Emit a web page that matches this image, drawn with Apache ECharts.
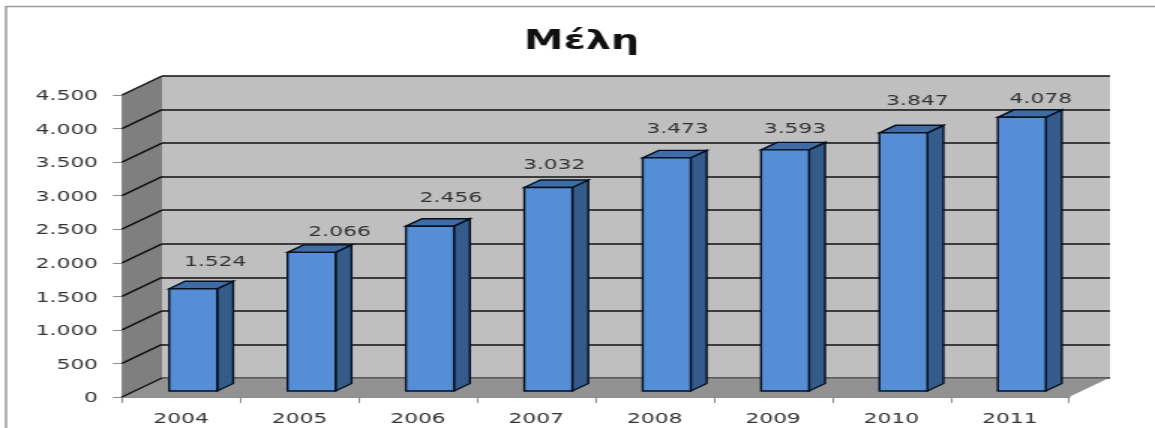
<!DOCTYPE html>
<html>
<head>
<meta charset="utf-8">
<title>Μέλη</title>
<style>
  html, body { margin: 0; padding: 0; background: #fff; overflow: hidden; }
  /* the reference is a picture stretched sideways, so the whole chart is too */
  #chart { width: 770px; height: 428px; transform: scaleX(1.5); transform-origin: 0 0; }
</style>
<script src="https://cdn.jsdelivr.net/npm/echarts@6/dist/echarts.min.js"></script>
</head>
<body>
<div id="chart"></div>
<script>
const years = ['2004', '2005', '2006', '2007', '2008', '2009', '2010', '2011']
const members = [1524, 2066, 2456, 3032, 3473, 3593, 3847, 4078]
const valueTicks = [0, 500, 1000, 1500, 2000, 2500, 3000, 3500, 4000, 4500]
// where each data label sits relative to its bar, in px (the original is uneven)
const labelLift = [26, 20, 28, 22, 29, 21, 32, 18]
const labelShift = [22, 28, 21, 6, 11, 10, 14, 19]

const STRETCH = 1.5
const sx = x => x / STRETCH
const FONT = '"DejaVu Sans"'

const wallDepth = [sx(40), -19]   // front plane -> back wall
const barInset = [sx(12), -6]     // front plane -> front face of the bar
const barDepth = [sx(16), -7.5]
const barRatio = 48 / 118.4

const fmt = v => String(v).replace(/\B(?=(\d{3})+$)/g, '.')
const poly = (points, fill) => ({
  type: 'polygon',
  shape: { points },
  style: { fill }
})

/* -------------------------- walls -------------------------- */
function renderWalls(params) {
  const { x, y, width, height } = params.coordSys
  const [dx, dy] = wallDepth
  const b = y + height
  return {
    type: 'group',
    children: [
      poly([[x, y], [x + dx, y + dy], [x + dx, b + dy], [x, b]], '#7f7f7f'),
      poly([[x, b], [x + dx, b + dy], [x + width + dx, b + dy], [x + width, b]], '#929292'),
      {
        type: 'line',
        shape: { x1: x + dx, y1: b + dy, x2: x + width + dx, y2: b + dy },
        style: { stroke: '#666', lineWidth: 1.6 }
      }
    ]
  }
}

function renderWallLines(params, api) {
  const x = params.coordSys.x
  const y = api.coord([0, api.value(0)])[1]
  return {
    type: 'line',
    shape: { x1: x, y1: y, x2: x + wallDepth[0], y2: y + wallDepth[1] },
    style: { stroke: '#111', lineWidth: 1.5 }
  }
}

/* -------------------------- bars -------------------------- */
function renderBar(params, api) {
  const band = api.size([1, 0])[0]
  const w = band * barRatio
  const top = api.coord([api.value(0), api.value(1)])
  const base = api.coord([api.value(0), 0])
  const l = top[0] + barInset[0] - w / 2
  const r = l + w
  const t = top[1] + barInset[1]
  const b = base[1] + barInset[1]
  const [dx, dy] = barDepth
  const line = { stroke: '#05101f', lineWidth: 1.4 }
  return {
    type: 'group',
    children: [
      { type: 'polygon', shape: { points: [[r, t], [r + dx, t + dy], [r + dx, b + dy], [r, b]] }, style: { fill: '#355b8a', ...line } },
      { type: 'polygon', shape: { points: [[l, t], [l + dx, t + dy], [r + dx, t + dy], [r, t]] }, style: { fill: '#3f6ca6', ...line } },
      { type: 'rect', shape: { x: l, y: t, width: w, height: b - t }, style: { fill: '#558ed5', ...line } },
      {
        type: 'text',
        style: {
          x: l + w / 2 + sx(labelShift[params.dataIndex]),
          y: t - labelLift[params.dataIndex],
          text: fmt(api.value(1)),
          align: 'center',
          verticalAlign: 'middle',
          fill: '#333',
          font: '14.5px ' + FONT
        }
      }
    ]
  }
}

const chart = echarts.init(document.getElementById('chart'))
chart.setOption({
  animation: false,
  backgroundColor: '#fff',
  textStyle: { fontFamily: FONT },
  title: {
    text: 'Μέλη',
    left: sx(574),
    top: 24,
    textAlign: 'center',
    textStyle: { fontFamily: FONT, fontSize: 26.5, fontWeight: 'bold', color: '#111' }
  },
  graphic: [
    { type: 'line', shape: { x1: sx(6), y1: 6.5, x2: 770, y2: 6.5 }, style: { stroke: '#9a9a9a', lineWidth: 1.5 } },
    { type: 'line', shape: { x1: sx(6), y1: 6, x2: sx(6), y2: 428 }, style: { stroke: '#9a9a9a', lineWidth: 1.5 } }
  ],
  grid: [
    // front plane: carries the axes and the bars
    { left: sx(122), top: 95, width: sx(947), height: 302 },
    // back wall: carries the gridlines
    { left: sx(162), top: 76, width: sx(948), height: 302, show: true, backgroundColor: '#bfbfbf', borderWidth: 0 }
  ],
  xAxis: [
    {
      type: 'category',
      data: years,
      gridIndex: 0,
      axisLine: { lineStyle: { color: '#8c8c8c', width: 2 } },
      axisTick: { show: true, length: 6, lineStyle: { color: '#8c8c8c' } },
      axisLabel: { color: '#333', fontSize: 14.5, margin: 15, fontFamily: FONT }
    },
    { type: 'category', data: years, gridIndex: 1, show: false }
  ],
  yAxis: [
    {
      type: 'value',
      gridIndex: 0,
      min: 0,
      max: 4500,
      interval: 500,
      axisLine: { show: true, lineStyle: { color: '#8c8c8c', width: 1.5 } },
      axisTick: { show: true, length: 6, lineStyle: { color: '#8c8c8c' } },
      axisLabel: {
        margin: 16,
        formatter: v => '{n|' + fmt(v) + '}',
        rich: { n: { color: '#333', fontSize: 14.5, fontFamily: FONT, padding: [3, 0, 0, 0] } }
      },
      splitLine: { show: false }
    },
    {
      type: 'value',
      gridIndex: 1,
      min: 0,
      max: 4500,
      interval: 500,
      axisLine: { show: false },
      axisTick: { show: false },
      axisLabel: { show: false },
      splitLine: { show: true, lineStyle: { color: '#111', width: 1.6 } }
    }
  ],
  series: [
    { type: 'custom', xAxisIndex: 0, yAxisIndex: 0, z: 1, silent: true, data: [[0, 0]], renderItem: renderWalls },
    { type: 'custom', xAxisIndex: 0, yAxisIndex: 0, z: 2, silent: true, data: valueTicks, renderItem: renderWallLines, encode: { y: 0 } },
    { type: 'custom', xAxisIndex: 0, yAxisIndex: 0, z: 3, data: members.map((v, i) => [i, v]), renderItem: renderBar, encode: { x: 0, y: 1 } }
  ]
})
</script>
</body>
</html>
